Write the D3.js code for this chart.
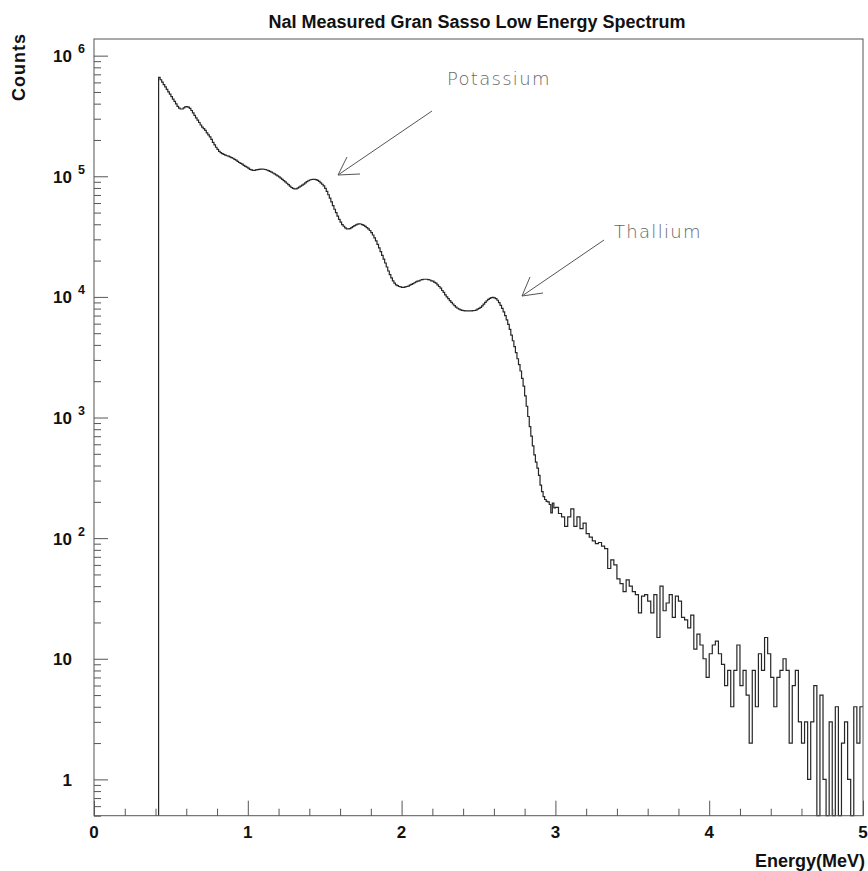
<!DOCTYPE html>
<html>
<head>
<meta charset="utf-8">
<script src="https://cdn.jsdelivr.net/npm/d3@7"></script>
<style>
  body { margin: 0; background: #fff; }
  svg { display: block; }
  .lbl { font-family: "Liberation Sans", Arial, Helvetica, sans-serif; font-weight: bold; fill: #111; }
  .note { font-family: "DejaVu Sans", sans-serif; font-weight: 200; fill: #666; }
</style>
</head>
<body>
<svg id="chart" width="868" height="871"></svg>
<script>
// binning (MeV): fine bins on the smooth part, coarser on the noisy tail
var lowStart = 0.42, lowBinWidth = 0.01;
var tailStart = 3.0, tailBinWidth = 0.02;

// counts per bin
var countsBelow1MeV = [661000, 631000, 603000, 575000, 550000, 525000, 501000, 479000,
    457000, 436000, 417000, 398000, 380000, 367000, 361000, 361000, 369000, 376000,
    378000, 375000, 365000, 351000, 335000, 320000, 305000, 292000, 279000, 266000,
    256000, 248000, 240000, 229000, 220000, 212000, 202000, 191000, 182000, 174000,
    167000, 161000, 157000, 154000, 152000, 150000, 148000, 147000, 145000, 143000,
    141000, 138000, 136000, 133000, 130000, 128000, 126000, 123000, 121000, 119000];
var counts1to2MeV = [117000, 114000, 113000, 112000, 112000, 113000, 113500, 114000, 114500, 114500,
    114300, 113800, 112700, 111400, 109900, 108100, 106400, 104700, 102800, 100900,
    98900, 96600, 94400, 92000, 89700, 87500, 85100, 82800, 80700, 79300,
    78500, 78700, 79800, 81300, 82800, 84300, 86100, 88100, 90200, 91800,
    93100, 94000, 94400, 94400, 93800, 92500, 90600, 88300, 85900, 83200,
    79400, 75000, 70300, 65800, 61400, 57100, 53300, 49900, 46800, 44000,
    41700, 39800, 38500, 37400, 36700, 36600, 36800, 37500, 38300, 39000,
    39600, 40100, 40300, 40200, 39800, 39200, 38400, 37500, 36600, 35500,
    34100, 32600, 30900, 29100, 27300, 25500, 23700, 22100, 20600, 19100,
    17700, 16400, 15300, 14400, 13600, 13000, 12600, 12400, 12200, 12100];
var counts2to3MeV = [12000, 12000, 12100, 12200, 12300, 12500, 12700, 12900, 13100, 13300,
    13500, 13600, 13800, 13900, 14000, 14000, 14000, 13900, 13800, 13600,
    13500, 13200, 13000, 12600, 12200, 11800, 11300, 10900, 10400, 10000,
    9660, 9330, 9020, 8730, 8470, 8240, 8050, 7910, 7800, 7730,
    7690, 7670, 7660, 7660, 7670, 7670, 7690, 7710, 7780, 7910,
    8040, 8200, 8410, 8710, 9020, 9290, 9530, 9720, 9860, 9890,
    9820, 9660, 9380, 8970, 8510, 8040, 7520, 7000, 6460, 5920,
    5370, 4820, 4330, 3870, 3450, 3070, 2740, 2430, 2110, 1820,
    1510, 1240, 1020, 840, 700, 582, 490, 427, 380, 331,
    275, 243, 221, 209, 202, 200, 190, 162, 195, 178];
var counts3to4MeV = [180, 160, 150, 125, 150, 175, 125, 150, 120, 133,
    109, 102, 95, 90, 92, 86, 82, 56, 66, 60,
    46, 42, 36, 45, 40, 36, 34, 24, 33, 34,
    30, 24, 34, 15, 40, 25, 29, 34, 22, 33,
    30, 22, 21, 18, 23, 12, 16, 13, 10, 7];
var counts4to5MeV = [11, 13, 14, 11, 9, 6, 8, 4, 8, 13,
    6, 8, 5, 2, 8, 4, 11, 8, 15, 11,
    7, 4, 7, 8, 10, 8, 2, 6, 8, 3,
    2, 3, 1, 3, 6, 0, 5, 1, 0, 3,
    0, 4, 0, 2, 3, 1, 0, 4, 2, 4];

// axes
var xTicks = [0, 1, 2, 3, 4, 5];
var yTickValues = [1, 10, 100, 1000, 10000, 100000, 1000000];
var yTickBase = ["1", "10", "10", "10", "10", "10", "10"];
var yTickExp = ["", "", "2", "3", "4", "5", "6"];

var title = "NaI Measured Gran Sasso Low Energy Spectrum";
var xTitle = "Energy(MeV)";
var yTitle = "Counts";

var frameL = 94, frameR = 863, frameT = 39, frameB = 815.7;

var svg = d3.select("#chart");

var x = d3.scaleLinear().domain([0, 5]).range([frameL, frameR]);
var y = d3.scaleLog().domain([0.5, 1.374e6]).range([frameB, frameT]);

var segments = [
    { start: lowStart, width: lowBinWidth, counts: countsBelow1MeV.concat(counts1to2MeV, counts2to3MeV) },
    { start: tailStart, width: tailBinWidth, counts: counts3to4MeV.concat(counts4to5MeV) }
];

// step points: rise from the baseline at the first bin edge
var pts = [{ e: lowStart, v: 0 }];
var lastSeg = segments[segments.length - 1];
segments.forEach(function (s) {
    s.counts.forEach(function (c, i) {
        pts.push({ e: s.start + i * s.width, v: c });
    });
});
pts.push({ e: lastSeg.start + lastSeg.counts.length * lastSeg.width, v: lastSeg.counts[lastSeg.counts.length - 1] });

var line = d3.line()
    .x(function (d) { return x(d.e); })
    .y(function (d) { return d.v > 0 ? y(d.v) : frameB; })
    .curve(d3.curveStepAfter);

svg.append("path")
    .datum(pts)
    .attr("d", line)
    .attr("fill", "none")
    .attr("stroke", "#262626")
    .attr("stroke-width", 1.2);

// frame
svg.append("rect")
    .attr("x", frameL).attr("y", frameT)
    .attr("width", frameR - frameL).attr("height", frameB - frameT)
    .attr("fill", "none")
    .attr("stroke", "#555")
    .attr("stroke-width", 1);

// y ticks (inside, on left edge)
var yMinor = [];
[0.1, 1, 10, 100, 1000, 10000, 100000, 1000000].forEach(function (dec) {
    for (var k = 2; k <= 9; k++) {
        var v = dec * k;
        if (v >= 0.5 && v <= 1.374e6) yMinor.push(v);
    }
});

svg.append("g")
    .attr("transform", "translate(" + frameL + ",0)")
    .call(d3.axisRight(y).tickValues(yMinor).tickSize(7).tickFormat(""))
    .call(function (g) { g.select(".domain").remove(); })
    .selectAll("line").attr("stroke", "#555");

svg.append("g")
    .attr("transform", "translate(" + frameL + ",0)")
    .call(d3.axisRight(y).tickValues(yTickValues).tickSize(14).tickFormat(""))
    .call(function (g) { g.select(".domain").remove(); })
    .selectAll("line").attr("stroke", "#555");

// x ticks (inside, on bottom edge)
var xMinor = d3.range(0, 26).map(function (i) { return i * 0.2; })
    .filter(function (v) { return Math.abs(v - Math.round(v)) > 1e-6; });

svg.append("g")
    .attr("transform", "translate(0," + frameB + ")")
    .call(d3.axisTop(x).tickValues(xMinor).tickSize(7).tickFormat(""))
    .call(function (g) { g.select(".domain").remove(); })
    .selectAll("line").attr("stroke", "#555");

svg.append("g")
    .attr("transform", "translate(0," + frameB + ")")
    .call(d3.axisTop(x).tickValues(xTicks).tickSize(15).tickFormat(""))
    .call(function (g) { g.select(".domain").remove(); })
    .selectAll("line").attr("stroke", "#555");

// x tick labels
svg.selectAll(".xlab")
    .data(xTicks)
    .enter().append("text")
    .attr("class", "lbl")
    .attr("x", function (d) { return x(d); })
    .attr("y", 838)
    .attr("text-anchor", "middle")
    .style("font-size", "17px")
    .text(function (d) { return d; });

// y tick labels with exponents
yTickValues.forEach(function (v, i) {
    var yy = y(v) + 6.5;
    svg.append("text")
        .attr("class", "lbl")
        .attr("x", 72).attr("y", yy)
        .attr("text-anchor", "end")
        .style("font-size", "17px")
        .text(yTickBase[i]);
    if (yTickExp[i]) {
        svg.append("text")
            .attr("class", "lbl")
            .attr("x", 78).attr("y", yy - 9)
            .style("font-size", "12.5px")
            .text(yTickExp[i]);
    }
});

// titles
svg.append("text")
    .attr("class", "lbl")
    .attr("x", 477).attr("y", 28)
    .attr("text-anchor", "middle")
    .style("font-size", "18px")
    .text(title);

svg.append("text")
    .attr("class", "lbl")
    .attr("x", 865).attr("y", 867)
    .attr("text-anchor", "end")
    .style("font-size", "18px")
    .text(xTitle);

svg.append("text")
    .attr("class", "lbl")
    .attr("transform", "translate(25,33) rotate(-90)")
    .attr("text-anchor", "end")
    .style("font-size", "18px")
    .style("letter-spacing", "1px")
    .text(yTitle);

// annotations
var notes = [
    { text: "Potassium", tx: 447, ty: 85, line: [432, 111, 338, 175], head: [347, 157, 360, 174] },
    { text: "Thallium", tx: 614, ty: 238, line: [604, 240, 522, 296], head: [530, 277, 543, 293] }
];

notes.forEach(function (n) {
    svg.append("text")
        .attr("class", "note")
        .attr("x", n.tx).attr("y", n.ty)
        .style("font-size", "18px")
        .style("letter-spacing", "1.3px")
        .text(n.text);
    svg.append("line")
        .attr("x1", n.line[0]).attr("y1", n.line[1])
        .attr("x2", n.line[2]).attr("y2", n.line[3])
        .attr("stroke", "#555").attr("stroke-width", 1);
    svg.append("line")
        .attr("x1", n.line[2]).attr("y1", n.line[3])
        .attr("x2", n.head[0]).attr("y2", n.head[1])
        .attr("stroke", "#555").attr("stroke-width", 1);
    svg.append("line")
        .attr("x1", n.line[2]).attr("y1", n.line[3])
        .attr("x2", n.head[2]).attr("y2", n.head[3])
        .attr("stroke", "#555").attr("stroke-width", 1);
});
</script>
</body>
</html>
